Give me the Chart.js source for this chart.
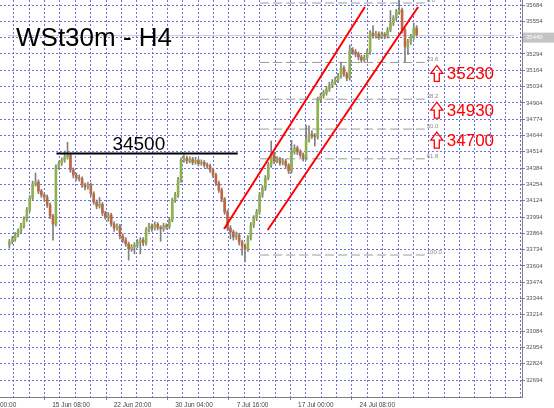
<!DOCTYPE html>
<html>
<head>
<meta charset="utf-8">
<script src="https://cdn.jsdelivr.net/npm/chart.js@4.4.0/dist/chart.umd.min.js"></script>
<style>
  html, body { margin: 0; padding: 0; background: #fff; }
  canvas { display: block; }
</style>
</head>
<body>
<canvas id="chart" width="554" height="408"></canvas>
<script>
// H4 candles, one per bar index
var openP = [33770, 33795, 33818, 33850, 33882, 33922, 33978, 34050, 34145, 34257,
  34273, 34201, 34169, 34153, 34090, 34002, 33938, 34393, 34424, 34448,
  34472, 34488, 34369, 34329, 34305, 34300, 34249, 34233, 34250, 34180,
  34113, 34082, 34095, 34026, 33994, 34010, 33938, 33906, 33920, 33842,
  33811, 33779, 33739, 33755, 33771, 33795, 33811, 33787, 33890, 33922,
  33905, 33935, 33910, 33900, 33925, 33915, 33970, 34129, 34169, 34289,
  34448, 34464, 34440, 34455, 34430, 34445, 34420, 34430, 34410, 34400,
  34369, 34329, 34265, 34209, 34137, 34034, 33906, 33874, 33834, 33850,
  33795, 33763, 33739, 33826, 33930, 33986, 34034, 34169, 34225, 34305,
  34408, 34496, 34440, 34455, 34425, 34440, 34405, 34361, 34512, 34544,
  34512, 34488, 34464, 34608, 34656, 34640, 34632, 34927, 34959, 34983,
  35014, 35046, 35070, 35086, 35118, 35182, 35134, 35102, 35325, 35310,
  35293, 35269, 35246, 35262, 35309, 35461, 35440, 35455, 35430, 35450,
  35437, 35485, 35541, 35581, 35628, 35644, 35485, 35349, 35389, 35429,
  35501];
var highP = [33815, 33840, 33870, 33900, 33945, 33995, 34070, 34165, 34280, 34345,
  34290, 34215, 34185, 34170, 34105, 34015, 34410, 34440, 34465, 34520,
  34590, 34500, 34385, 34345, 34330, 34315, 34265, 34270, 34265, 34195,
  34130, 34150, 34110, 34040, 34030, 34025, 33955, 33940, 33935, 33860,
  33830, 33795, 33775, 33790, 33815, 33830, 33830, 33910, 33945, 33940,
  33955, 33950, 33925, 33945, 33940, 33990, 34145, 34190, 34310, 34465,
  34490, 34480, 34475, 34470, 34470, 34460, 34450, 34445, 34425, 34415,
  34385, 34345, 34280, 34225, 34150, 34050, 33925, 33890, 33875, 33865,
  33810, 33780, 33845, 33950, 34005, 34055, 34190, 34245, 34325, 34430,
  34600, 34510, 34475, 34470, 34460, 34455, 34420, 34605, 34570, 34560,
  34530, 34505, 34725, 34720, 34680, 34660, 34950, 34980, 35005, 35035,
  35070, 35090, 35110, 35140, 35230, 35200, 35150, 35365, 35345, 35330,
  35310, 35285, 35285, 35330, 35480, 35520, 35475, 35470, 35470, 35465,
  35505, 35640, 35600, 35650, 35720, 35660, 35500, 35410, 35450, 35540,
  35520];
var lowP = [33745, 33780, 33800, 33835, 33865, 33905, 33960, 34035, 34130, 34240,
  34180, 34150, 34120, 34070, 33980, 33810, 33920, 34375, 34405, 34430,
  34455, 34350, 34305, 34285, 34280, 34230, 34210, 34215, 34160, 34095,
  34060, 34065, 34005, 33975, 33960, 33920, 33880, 33890, 33820, 33790,
  33760, 33650, 33720, 33700, 33750, 33700, 33765, 33770, 33875, 33880,
  33890, 33890, 33800, 33880, 33895, 33900, 33955, 34110, 34150, 34270,
  34430, 34420, 34425, 34410, 34415, 34400, 34405, 34390, 34380, 34350,
  34310, 34245, 34190, 34115, 34015, 33885, 33820, 33810, 33815, 33770,
  33690, 33635, 33720, 33810, 33910, 33965, 34015, 34150, 34205, 34290,
  34390, 34420, 34425, 34405, 34410, 34380, 34340, 34345, 34495, 34490,
  34470, 34440, 34450, 34590, 34620, 34560, 34615, 34905, 34940, 34965,
  34995, 35025, 35050, 35065, 35100, 35115, 35080, 35085, 35290, 35270,
  35245, 35225, 35230, 35245, 35290, 35420, 35420, 35410, 35415, 35415,
  35420, 35470, 35520, 35560, 35610, 35460, 35230, 35290, 35370, 35410,
  35435];
var closeP = [33795, 33818, 33850, 33882, 33922, 33978, 34050, 34145, 34257, 34273,
  34201, 34169, 34153, 34090, 34002, 33938, 34393, 34424, 34448, 34472,
  34488, 34369, 34329, 34305, 34300, 34249, 34233, 34250, 34180, 34113,
  34082, 34095, 34026, 33994, 34010, 33938, 33906, 33920, 33842, 33811,
  33779, 33739, 33755, 33771, 33795, 33811, 33787, 33890, 33922, 33905,
  33935, 33910, 33900, 33925, 33915, 33970, 34129, 34169, 34289, 34448,
  34464, 34440, 34455, 34430, 34445, 34420, 34430, 34410, 34400, 34369,
  34329, 34265, 34209, 34137, 34034, 33906, 33874, 33834, 33850, 33795,
  33763, 33739, 33826, 33930, 33986, 34034, 34169, 34225, 34305, 34408,
  34496, 34440, 34455, 34425, 34440, 34405, 34361, 34512, 34544, 34512,
  34488, 34464, 34608, 34656, 34640, 34632, 34927, 34959, 34983, 35014,
  35046, 35070, 35086, 35118, 35182, 35134, 35102, 35325, 35310, 35293,
  35269, 35246, 35262, 35309, 35461, 35440, 35455, 35430, 35450, 35437,
  35485, 35541, 35581, 35628, 35644, 35485, 35349, 35389, 35429, 35501,
  35450];

var xLabels = ["15 Jun 08:00", "22 Jun 20:00", "30 Jun 04:00", "7 Jul 16:00", "17 Jul 00:00", "24 Jul 08:00"];
var yTicks = [32694, 32824, 32954, 33084, 33214, 33344, 33474, 33604, 33734, 33864,
  33994, 34124, 34254, 34384, 34514, 34644, 34774, 34904, 35034, 35164,
  35294, 35424, 35554, 35684];

// fibonacci retracement drawn on the last leg
var fibPrices = [35700, 35226, 34933, 34695, 34458, 33691];
var fibLabels = ["0.0", "23.6", "38.2", "50.0", "61.8", "100.0"];
var fibFrom = 86.7, fibTo = 143.3;

// rising channel, [bar, price]
var channelUpper = [[74.3, 33898], [122.7, 35668]];
var channelLower = [[89.3, 33890], [141, 35668]];

var resistanceLevel = 34500;
var resistanceSpan = [16.7, 79];
var targets = [35230, 34930, 34700];
var bidPrice = 35440;

var title = "WSt30m - H4";

var bull = '#8fb34c';
var bear = '#bd6842';
var wick = '#808080';

Chart.defaults.font.family = '"Liberation Sans", Arial, sans-serif';

var idx = closeP.map(function(c, i) { return i; });

function pts(arr) {
  return arr.map(function(p) { return { x: p[0], y: p[1] }; });
}

var lineDefaults = { type: 'line', pointRadius: 0, fill: false, tension: 0 };

var datasets = [
  {
    type: 'bar', order: 3, grouped: false, barThickness: 1,
    backgroundColor: wick,
    data: idx.map(function(i) { return { x: i + 0.5, y: [lowP[i], highP[i]] }; })
  },
  {
    type: 'bar', order: 2, grouped: false, barThickness: 2,
    backgroundColor: idx.map(function(i) { return closeP[i] >= openP[i] ? bull : bear; }),
    data: idx.map(function(i) { return { x: i + 0.5, y: [openP[i], closeP[i]] }; })
  },
  Object.assign({}, lineDefaults, {
    order: 6, borderColor: '#c8c8c8', borderWidth: 1,
    data: [{ x: 0, y: bidPrice }, { x: 174, y: bidPrice }]
  }),
  Object.assign({}, lineDefaults, {
    order: 1, borderColor: '#000', borderWidth: 2,
    data: [{ x: resistanceSpan[0], y: resistanceLevel }, { x: resistanceSpan[1], y: resistanceLevel }]
  }),
  Object.assign({}, lineDefaults, {
    order: 1, borderColor: '#ff0000', borderWidth: 2, data: pts(channelUpper)
  }),
  Object.assign({}, lineDefaults, {
    order: 1, borderColor: '#ff0000', borderWidth: 2, data: pts(channelLower)
  })
];

fibPrices.forEach(function(p) {
  datasets.push(Object.assign({}, lineDefaults, {
    order: 5, borderColor: '#9a9a9a', borderWidth: 1, borderDash: [9, 4],
    data: [{ x: fibFrom, y: p }, { x: fibTo, y: p }]
  }));
});

function upArrow(ctx, cx, top, bottom) {
  var neck = top + 8;
  ctx.beginPath();
  ctx.moveTo(cx, top);
  ctx.lineTo(cx + 6, neck);
  ctx.lineTo(cx + 2.5, neck);
  ctx.lineTo(cx + 2.5, bottom);
  ctx.lineTo(cx - 2.5, bottom);
  ctx.lineTo(cx - 2.5, neck);
  ctx.lineTo(cx - 6, neck);
  ctx.closePath();
  ctx.stroke();
}

var overlay = {
  id: 'overlay',
  afterDatasetsDraw: function(chart) {
    var ctx = chart.ctx, xs = chart.scales.x, ys = chart.scales.y;
    ctx.save();

    ctx.fillStyle = '#000';
    ctx.textAlign = 'left';
    ctx.textBaseline = 'alphabetic';
    ctx.font = '26px "Liberation Sans", Arial, sans-serif';
    ctx.fillText(title, 16, 46);

    ctx.font = '19px "Liberation Sans", Arial, sans-serif';
    ctx.textAlign = 'center';
    ctx.fillText(String(resistanceLevel), xs.getPixelForValue(45), ys.getPixelForValue(resistanceLevel) - 4);

    // fib level captions
    ctx.textAlign = 'left';
    ctx.font = '6px "Liberation Sans", Arial, sans-serif';
    ctx.fillStyle = '#8a8a8a';
    fibPrices.forEach(function(p, i) {
      ctx.fillText(fibLabels[i], xs.getPixelForValue(fibTo) + 2, ys.getPixelForValue(p) - 1);
    });

    // targets below the fib levels
    ctx.fillStyle = '#ff0000';
    ctx.strokeStyle = '#ff0000';
    ctx.lineWidth = 1.3;
    ctx.font = '17px "Liberation Sans", Arial, sans-serif';
    targets.forEach(function(t, i) {
      var y = ys.getPixelForValue(fibPrices[i + 1]) + 17;
      var x = xs.getPixelForValue(fibTo) + 12;
      upArrow(ctx, x, y - 14, y + 2);
      ctx.fillText(String(t), x + 10, y);
    });

    // clipped first time label
    ctx.fillStyle = '#444';
    ctx.font = '6.5px "Liberation Sans", Arial, sans-serif';
    ctx.fillText('00:00', 0, chart.chartArea.bottom + 10);

    // bid box on the price axis
    var by = ys.getPixelForValue(bidPrice);
    ctx.fillStyle = '#c4c4c4';
    ctx.fillRect(chart.chartArea.right + 1, by - 3, 31, 10);
    ctx.fillStyle = '#fff';
    ctx.font = '6px "Liberation Sans", Arial, sans-serif';
    ctx.textBaseline = 'middle';
    ctx.fillText(String(bidPrice), chart.chartArea.right + 4, by + 2);

    ctx.restore();
  }
};

var gridColor = 'rgba(95, 95, 215, 0.9)';

new Chart(document.getElementById('chart'), {
  type: 'bar',
  data: { datasets: datasets },
  options: {
    responsive: false,
    animation: false,
    layout: { padding: 0 },
    plugins: { legend: { display: false }, tooltip: { enabled: false } },
    scales: {
      x: {
        type: 'linear', min: 0, max: 174,
        border: { display: true, color: '#808080', width: 1, dash: [2, 2] },
        grid: {
          color: gridColor, lineWidth: 1,
          tickLength: 3, tickBorderDash: [],
          tickColor: function(c) { return c.tick && c.tick.label ? '#808080' : 'rgba(0,0,0,0)'; }
        },
        ticks: {
          autoSkip: false, maxRotation: 0, minRotation: 0, align: 'start', padding: 1,
          color: '#444', font: { size: 6.5 },
          callback: function(v, i) {
            var k = i - 2;
            return (k >= 0 && k % 4 === 0 && xLabels[k / 4]) ? xLabels[k / 4] : '';
          }
        },
        afterBuildTicks: function(s) {
          var t = [];
          for (var k = 0; k < 33; k++) t.push({ value: 4.667 + 5.283 * k });
          s.ticks = t;
        },
        afterFit: function(s) {
          s.height = 11; s.paddingLeft = 0; s.paddingRight = 0;
        }
      },
      y: {
        type: 'linear', position: 'right', min: 32559, max: 35724,
        border: { display: true, color: '#808080', width: 1, dash: [2, 2] },
        grid: {
          color: gridColor, lineWidth: 1,
          tickLength: 3, tickColor: '#808080', tickBorderDash: []
        },
        ticks: {
          padding: 1, color: '#555', font: { size: 6 },
          callback: function(v) { return String(v); }
        },
        afterBuildTicks: function(s) {
          s.ticks = yTicks.map(function(v) { return { value: v }; });
        },
        afterFit: function(s) {
          s.width = 32; s.paddingTop = 0; s.paddingBottom = 0;
        }
      }
    }
  },
  plugins: [overlay]
});
</script>
</body>
</html>
